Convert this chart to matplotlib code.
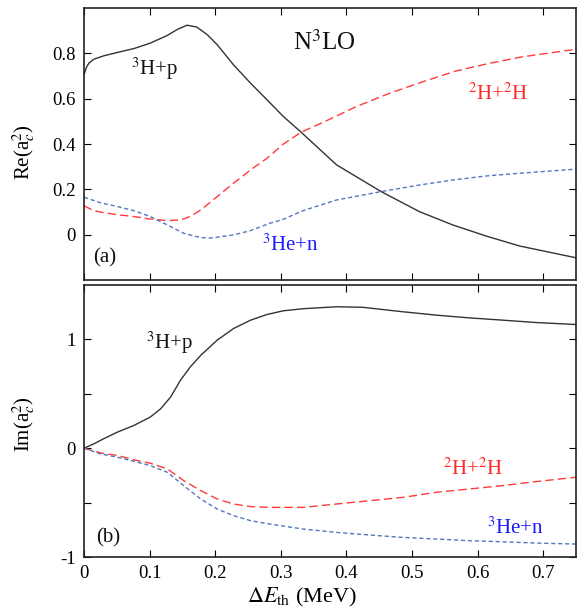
import matplotlib
matplotlib.use("Agg")
import matplotlib.pyplot as plt
from matplotlib.ticker import FixedLocator, FixedFormatter

plt.rcParams['font.family'] = ['Liberation Serif', 'DejaVu Serif']
plt.rcParams['mathtext.fontset'] = 'stix'

# Real part of a_c^2 versus threshold energy (MeV)
re_tp_x = [0.0, 0.004, 0.0076, 0.015, 0.030, 0.051, 0.076, 0.101, 0.127, 0.142, 0.157,
           0.172, 0.188, 0.203, 0.228, 0.254, 0.279, 0.304, 0.331, 0.385, 0.453, 0.511,
           0.562, 0.613, 0.664, 0.75]
re_tp_y = [0.706, 0.74, 0.757, 0.774, 0.789, 0.804, 0.821, 0.845, 0.879, 0.905, 0.924,
           0.916, 0.882, 0.838, 0.749, 0.668, 0.595, 0.521, 0.452, 0.308, 0.19, 0.102,
           0.043, -0.006, -0.05, -0.102]

re_dd_x = [0.0, 0.015, 0.030, 0.051, 0.076, 0.101, 0.127, 0.147, 0.162, 0.178, 0.203,
           0.228, 0.254, 0.279, 0.304, 0.331, 0.364, 0.415, 0.466, 0.517, 0.567, 0.618,
           0.669, 0.75]
re_dd_y = [0.127, 0.106, 0.097, 0.088, 0.080, 0.069, 0.062, 0.065, 0.080, 0.109, 0.168,
           0.227, 0.286, 0.337, 0.400, 0.452, 0.495, 0.565, 0.624, 0.675, 0.722, 0.756,
           0.785, 0.818]

re_hn_x = [0.0, 0.025, 0.051, 0.076, 0.101, 0.127, 0.152, 0.178, 0.193, 0.228, 0.254,
           0.283, 0.304, 0.333, 0.385, 0.453, 0.511, 0.562, 0.613, 0.664, 0.75]
re_hn_y = [0.165, 0.141, 0.124, 0.106, 0.080, 0.043, 0.006, -0.013, -0.015, -0.001, 0.018,
           0.050, 0.068, 0.105, 0.153, 0.19, 0.219, 0.241, 0.259, 0.271, 0.289]

# Imaginary part of a_c^2 versus threshold energy (MeV)
im_tp_x = [0.0, 0.015, 0.030, 0.051, 0.076, 0.101, 0.117, 0.132, 0.147, 0.162, 0.178,
           0.203, 0.228, 0.254, 0.279, 0.304, 0.334, 0.385, 0.425, 0.486, 0.537, 0.587,
           0.638, 0.689, 0.75]
im_tp_y = [0.0, 0.04, 0.087, 0.148, 0.209, 0.286, 0.363, 0.47, 0.624, 0.747, 0.854,
           0.993, 1.10, 1.177, 1.229, 1.263, 1.282, 1.30, 1.295, 1.254, 1.223, 1.198,
           1.177, 1.155, 1.137]

im_dd_x = [0.0, 0.025, 0.051, 0.076, 0.101, 0.127, 0.152, 0.178, 0.203, 0.228, 0.254,
           0.283, 0.334, 0.385, 0.436, 0.486, 0.537, 0.587, 0.638, 0.689, 0.75]
im_dd_y = [0.0, -0.043, -0.067, -0.107, -0.138, -0.19, -0.298, -0.39, -0.467, -0.513,
           -0.537, -0.544, -0.544, -0.513, -0.482, -0.452, -0.405, -0.375, -0.344, -0.307,
           -0.267]

im_hn_x = [0.0, 0.025, 0.051, 0.076, 0.101, 0.127, 0.152, 0.178, 0.203, 0.228, 0.254,
           0.283, 0.334, 0.385, 0.436, 0.486, 0.537, 0.587, 0.638, 0.689, 0.75]
im_hn_y = [0.0, -0.052, -0.083, -0.12, -0.16, -0.221, -0.344, -0.467, -0.559, -0.62,
           -0.666, -0.697, -0.743, -0.774, -0.798, -0.82, -0.835, -0.85, -0.86, -0.872,
           -0.881]

x_ticks = [0, 0.1, 0.2, 0.3, 0.4, 0.5, 0.6, 0.7]
x_ticklabels = ['0', '0.1', '0.2', '0.3', '0.4', '0.5', '0.6', '0.7']
re_ticks = [0, 0.2, 0.4, 0.6, 0.8]
re_ticklabels = ['0', '0.2', '0.4', '0.6', '0.8']
im_ticks = [-1, 0, 1]
im_ticklabels = ['-1', '0', '1']
im_minor = [-0.5, 0.5]

BLACK = '#333333'
RED = '#ff3b3b'
BLUE = '#5577bb'
RED_TXT = '#ff2a2a'
BLUE_TXT = '#1a1aff'

fig = plt.figure(figsize=(5.78, 6.16), dpi=100)
ax1 = fig.add_axes([84/578, 1-280/616, 492/578, 272/616])
ax2 = fig.add_axes([84/578, 1-557/616, 492/578, 272/616])


def draw(ax, xs, ys, color, dashes=None):
    line, = ax.plot(xs, ys, color=color, lw=1.0,
                    solid_joinstyle='round', dash_joinstyle='round')
    if dashes:
        line.set_dashes(dashes)


draw(ax1, re_tp_x, re_tp_y, BLACK)
draw(ax1, re_dd_x, re_dd_y, RED, (6, 3))
draw(ax1, re_hn_x, re_hn_y, BLUE, (3, 2))
draw(ax2, im_tp_x, im_tp_y, BLACK)
draw(ax2, im_dd_x, im_dd_y, RED, (6, 3))
draw(ax2, im_hn_x, im_hn_y, BLUE, (3, 2))

for ax in (ax1, ax2):
    ax.set_xlim(0, 0.75)
    ax.xaxis.set_major_locator(FixedLocator(x_ticks))
    ax.tick_params(which='both', direction='in', top=True, right=True,
                   length=5, width=0.8, labelsize=13.5, pad=6)
    for s in ax.spines.values():
        s.set_linewidth(1.2)
        s.set_color('#222222')

ax1.set_ylim(-0.2, 1.0)
ax1.yaxis.set_major_locator(FixedLocator(re_ticks))
ax1.yaxis.set_major_formatter(FixedFormatter(re_ticklabels))
ax1.tick_params(axis='x', labelbottom=False)

ax2.set_ylim(-1, 1.5)
ax2.yaxis.set_major_locator(FixedLocator(im_ticks))
ax2.yaxis.set_major_formatter(FixedFormatter(im_ticklabels))
ax2.yaxis.set_minor_locator(FixedLocator(im_minor))
ax2.tick_params(which='minor', direction='in', length=5, width=0.8, right=True)
ax2.xaxis.set_major_formatter(FixedFormatter(x_ticklabels))

ax1.set_ylabel(r'Re(a$_c^2$)', fontsize=15)
ax1.yaxis.set_label_coords(-0.096, 0.47)
ax2.set_ylabel(r'Im(a$_c^2$)', fontsize=15)
ax2.yaxis.set_label_coords(-0.096, 0.49)
ax2.set_xlabel(r'$\Delta E_{\mathrm{th}}$ (MeV)', fontsize=16)
ax2.xaxis.set_label_coords(0.443, -0.108)

ax1.text(0.318, 0.85, r'N$^3$LO', fontsize=18, color='#111111', va='center')
ax1.text(0.072, 0.73, r'$^3$H+p', fontsize=15, color='#111111', va='center')
ax1.text(0.586, 0.62, r'$^2$H+$^2$H', fontsize=15, color=RED_TXT, va='center')
ax1.text(0.271, -0.045, r'$^3$He+n', fontsize=15, color=BLUE_TXT, va='center')
ax1.text(0.014, -0.103, '(a)', fontsize=15, color='#111111', va='center')

ax2.text(0.095, 0.965, r'$^3$H+p', fontsize=15, color='#111111', va='center')
ax2.text(0.548, -0.19, r'$^2$H+$^2$H', fontsize=15, color=RED_TXT, va='center')
ax2.text(0.614, -0.73, r'$^3$He+n', fontsize=15, color=BLUE_TXT, va='center')
ax2.text(0.018, -0.82, '(b)', fontsize=15, color='#111111', va='center')

fig.savefig('out.png', dpi=100)
